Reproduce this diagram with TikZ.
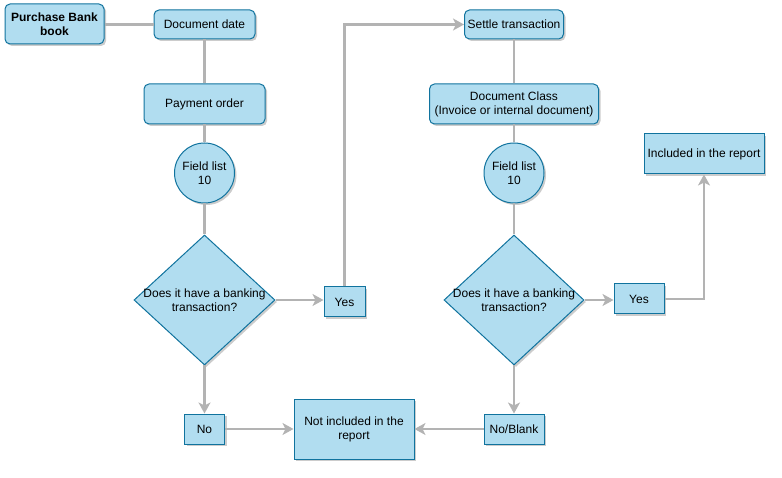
\documentclass[tikz,border=0pt]{standalone}
\usepackage{fontspec}
\setmainfont{Liberation Sans}
\usetikzlibrary{shapes.geometric,arrows.meta,shadows}
\definecolor{boxfill}{HTML}{B1DDF0}
\definecolor{boxline}{HTML}{10739E}
\definecolor{conn}{HTML}{B3B3B3}
\begin{document}
\begin{tikzpicture}[x=1pt,y=-1pt,
  every node/.style={font=\fontsize{12}{14}\selectfont, align=center, inner sep=0pt},
  shbox/.style={fill=boxfill, draw=boxline, line width=1pt,
     drop shadow={shadow xshift=2pt, shadow yshift=-2pt, fill=black, opacity=0.2}},
  rbox/.style={shbox, rectangle, rounded corners=5pt},
  sbox/.style={shbox, rectangle},
  cbox/.style={shbox, circle},
  dbox/.style={shbox, diamond, aspect=1.09, inner sep=-5pt},
  line/.style={draw=conn, line width=2.5pt},
  arr/.style={line, -{Stealth[length=11pt,width=12pt,inset=3pt]}}
]
\useasboundingbox (0,0) rectangle (782,478);
\node[rbox, minimum width=99pt, minimum height=40pt, font=\fontsize{12}{14}\selectfont\bfseries] (pb) at (54.5,24) {Purchase Bank\\book};
\node[rbox, minimum width=101pt, minimum height=29pt] (dd) at (204.5,24.5) {Document date};
\node[rbox, minimum width=121pt, minimum height=40pt] (po) at (204.5,104) {Payment order};
\node[cbox, minimum size=60pt] (fl1) at (204.5,173) {Field list\\10};
\node[dbox, minimum width=141pt, minimum height=130pt] (d1) at (204.5,300) {Does it have a banking\\transaction?};
\node[sbox, minimum width=41pt, minimum height=30pt] (y1) at (344.5,302) {Yes};
\node[sbox, minimum width=40pt, minimum height=30pt] (no) at (204.5,429) {No};
\node[sbox, minimum width=120pt, minimum height=60pt] (ni) at (354,429) {Not included in the\\report};
\node[sbox, minimum width=60pt, minimum height=30pt] (nb) at (514,429) {No/Blank};
\node[dbox, minimum width=140pt, minimum height=130pt] (d2) at (514,300) {Does it have a banking\\transaction?};
\node[sbox, minimum width=50pt, minimum height=30pt] (y2) at (639,299) {Yes};
\node[sbox, minimum width=120pt, minimum height=40pt] (inc) at (704,154) {Included in the report};
\node[cbox, minimum size=60pt] (fl2) at (514,173) {Field list\\10};
\node[rbox, minimum width=169pt, minimum height=40pt] (dc) at (514,104) {Document Class\\(Invoice or internal document)};
\node[rbox, minimum width=99pt, minimum height=29pt] (st) at (514,24.5) {Settle transaction};

\draw[line] (pb.east |- dd.west) -- (dd.west);
\draw[line] (dd) -- (po);
\draw[line] (po) -- (fl1);
\draw[line] (fl1) -- (d1);
\draw[arr] (d1.east) -- (y1.west |- d1.east);
\draw[arr] (y1.north) |- (st.west);
\draw[arr] (d1.south) -- (no.north);
\draw[arr] (no.east) -- (ni.west |- no.east);
\draw[arr] (nb.west) -- (ni.east |- nb.west);
\draw[line] (st) -- (dc);
\draw[line] (dc) -- (fl2);
\draw[line] (fl2) -- (d2);
\draw[arr] (d2.south) -- (nb.north);
\draw[arr] (d2.east) -- (y2.west |- d2.east);
\draw[arr] (y2.east) -| (inc.south);
\end{tikzpicture}
\end{document}
